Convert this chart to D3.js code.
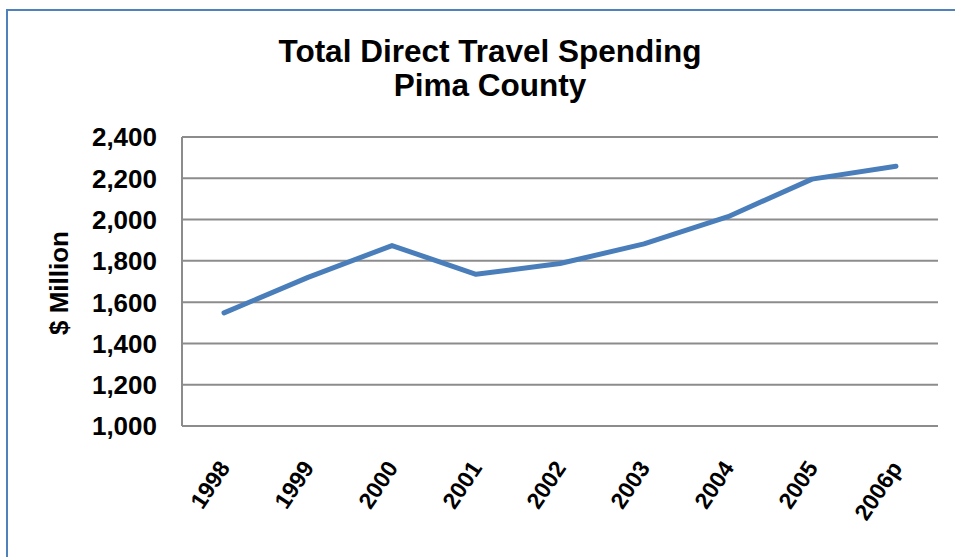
<!DOCTYPE html>
<html>
<head>
<meta charset="utf-8">
<script src="https://cdn.jsdelivr.net/npm/d3@7"></script>
<style>
  body { margin: 0; background: #fff; }
  text { font-family: "Liberation Sans", Arial, sans-serif; font-weight: bold; fill: #000; }
</style>
</head>
<body>
<div id="chart"></div>
<script>
// chart data
const years = ["1998", "1999", "2000", "2001", "2002", "2003", "2004", "2005", "2006p"];
const spending = [1548, 1720, 1874, 1735, 1787, 1882, 2014, 2196, 2258];
const yTicks = [1000, 1200, 1400, 1600, 1800, 2000, 2200, 2400];

const W = 955, H = 557;
const margin = {top: 137, right: 17, bottom: 131, left: 182},
    width = W - margin.left - margin.right,
    height = H - margin.top - margin.bottom;

const svg = d3.select("#chart").append("svg")
    .attr("width", W)
    .attr("height", H);

// outer border
svg.append("rect")
    .attr("x", 7).attr("y", 10)
    .attr("width", W + 10).attr("height", H + 10)
    .attr("fill", "none")
    .attr("stroke", "#4f81bd")
    .attr("stroke-width", 2);

// title
svg.append("text").attr("x", 490).attr("y", 62)
    .attr("text-anchor", "middle").style("font-size", "31.5px")
    .text("Total Direct Travel Spending");
svg.append("text").attr("x", 490).attr("y", 96)
    .attr("text-anchor", "middle").style("font-size", "31.5px")
    .text("Pima County");

const g = svg.append("g")
    .attr("transform", "translate(" + margin.left + "," + margin.top + ")");

const x = d3.scaleBand().domain(years).range([0, width]);
const y = d3.scaleLinear().domain([1000, 2400]).range([height, 0]);

// gridlines
g.selectAll(".grid")
    .data(yTicks)
    .enter().append("line")
    .attr("x1", 0).attr("x2", width)
    .attr("y1", d => y(d)).attr("y2", d => y(d))
    .attr("stroke", "#8c8c8c")
    .attr("stroke-width", 2);

// y axis line
g.append("line")
    .attr("x1", 0).attr("x2", 0)
    .attr("y1", 0).attr("y2", height)
    .attr("stroke", "#8c8c8c")
    .attr("stroke-width", 2);

// y tick labels
g.selectAll(".ylab")
    .data(yTicks)
    .enter().append("text")
    .attr("x", -25)
    .attr("y", d => y(d))
    .attr("dy", "0.36em")
    .attr("text-anchor", "end")
    .style("font-size", "26px")
    .text(d => d3.format(",")(d));

// y axis title
svg.append("text")
    .attr("transform", "translate(68," + 283 + ") rotate(-90)")
    .attr("text-anchor", "middle")
    .style("font-size", "26px")
    .text("$ Million");

// x tick labels
g.selectAll(".xlab")
    .data(years)
    .enter().append("text")
    .attr("transform", d => "translate(" + (x(d) + x.bandwidth() / 2 + 7) + "," + (height + 42) + ") rotate(-56)")
    .attr("text-anchor", "end")
    .style("font-size", "23px")
    .text(d => d);

// the line
const line = d3.line()
    .x((d, i) => x(years[i]) + x.bandwidth() / 2)
    .y(d => y(d));

g.append("path")
    .datum(spending)
    .attr("fill", "none")
    .attr("stroke", "#4a7ebb")
    .attr("stroke-width", 5)
    .attr("stroke-linecap", "round")
    .attr("stroke-linejoin", "round")
    .attr("d", line);
</script>
</body>
</html>
